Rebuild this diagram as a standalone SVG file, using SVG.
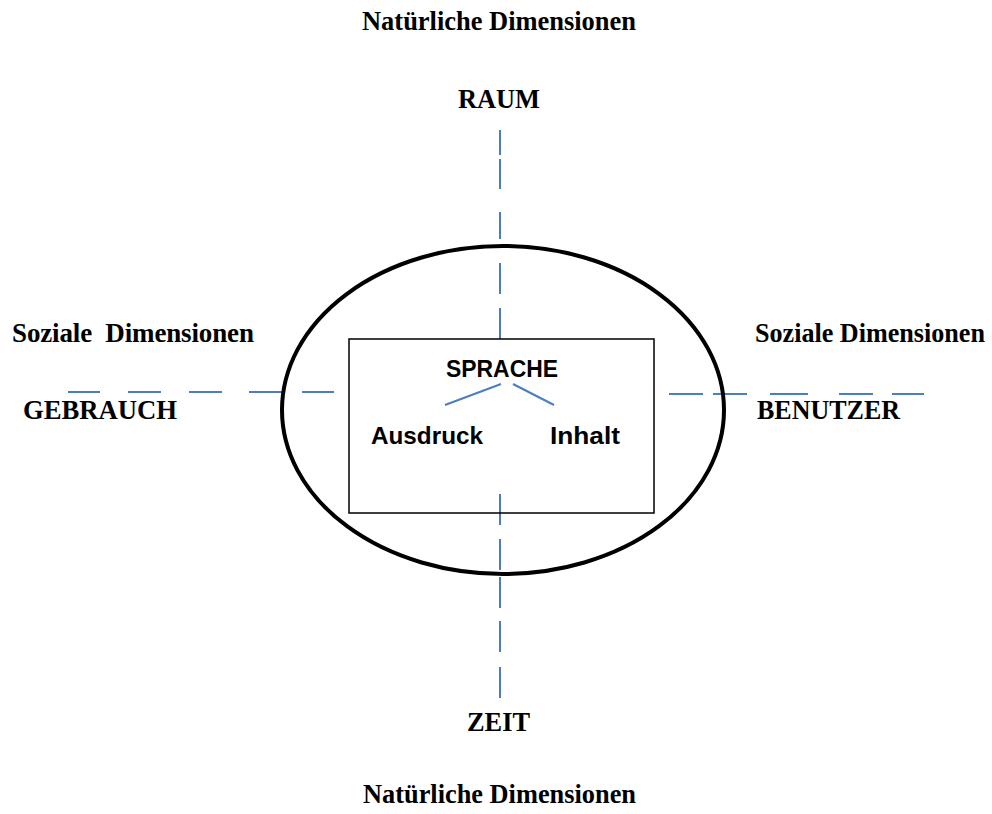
<svg xmlns="http://www.w3.org/2000/svg" width="992" height="814" viewBox="0 0 992 814">
<style>
.t{font-family:"Liberation Serif","Times New Roman",serif;font-weight:bold;font-size:27px;fill:#000}
.s{font-family:"Liberation Sans",Arial,sans-serif;font-weight:bold;font-size:24px;fill:#000}
.d{stroke:#4a7ebf;stroke-width:2;fill:none}
</style>
<rect width="992" height="814" fill="#fff"/>
<g id="labels">
<text class="t" x="362" y="30" textLength="274" lengthAdjust="spacingAndGlyphs">Natürliche Dimensionen</text>
<text class="t" x="458" y="108" textLength="82" lengthAdjust="spacingAndGlyphs">RAUM</text>
<text class="t" x="12" y="342" textLength="242" xml:space="preserve">Soziale  Dimensionen</text>
<text class="t" x="755" y="342" textLength="230" lengthAdjust="spacingAndGlyphs">Soziale Dimensionen</text>
<text class="t" x="23" y="419" textLength="154" lengthAdjust="spacingAndGlyphs">GEBRAUCH</text>
<text class="t" x="757" y="419" textLength="143" lengthAdjust="spacingAndGlyphs">BENUTZER</text>
<text class="t" x="467" y="731" textLength="63" lengthAdjust="spacingAndGlyphs">ZEIT</text>
<text class="t" x="363" y="803" textLength="273" lengthAdjust="spacingAndGlyphs">Natürliche Dimensionen</text>
</g>
<g id="connectors">
<path class="d" d="M500 130V155M500 159V189M500 212V239M500 263V294M500 308V339"/>
<path class="d" d="M500 494V525M500 539V570M500 577V608M500 621V652M500 667V698"/>
<path class="d" d="M68 392H100M128 392H161M189 392H222M249 392H283M302 392H334"/>
<path class="d" d="M669 394H703M713 394H747M770 394H808M839 394H873M892 394H924"/>
<path class="d" d="M501 384L445 405M513 384L554 405"/>
</g>
<g id="ellipse">
<ellipse cx="503" cy="410" rx="221" ry="164" fill="none" stroke="#000" stroke-width="4"/>
</g>
<g id="sprache-box">
<rect x="349" y="339" width="305" height="174" fill="none" stroke="#000" stroke-width="1.5"/>
<text class="s" x="446" y="377" textLength="112" lengthAdjust="spacingAndGlyphs">SPRACHE</text>
<text class="s" x="371" y="444" textLength="112" lengthAdjust="spacingAndGlyphs">Ausdruck</text>
<text class="s" x="550" y="444" textLength="70" lengthAdjust="spacingAndGlyphs">Inhalt</text>
</g>
</svg>
